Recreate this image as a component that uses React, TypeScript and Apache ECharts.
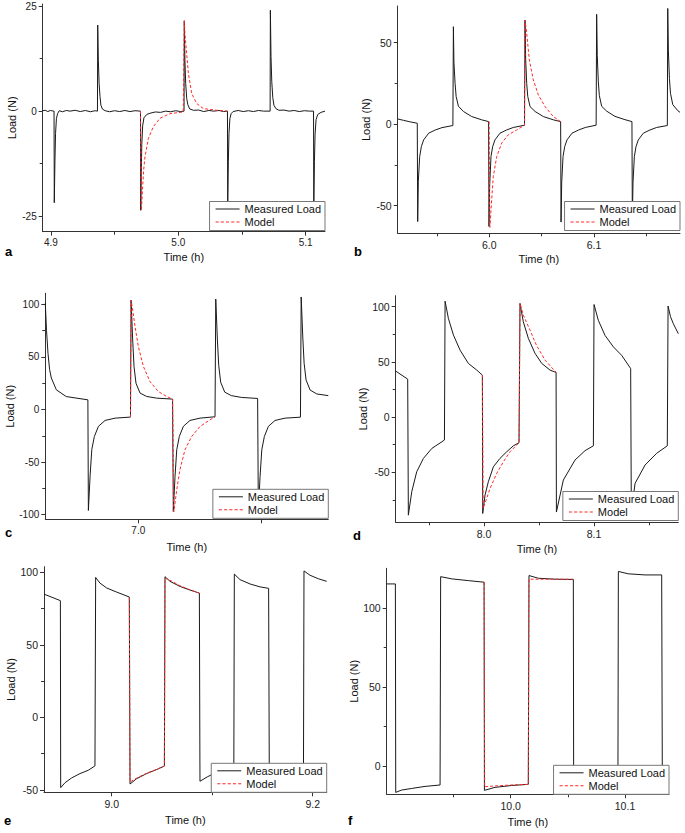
import React, { useEffect, useRef } from "react";
import * as echarts from "echarts";

type Pt = [number, number];

// ---------- Panel a ----------
const measuredA: Pt[] = [
  [4.8935, 0.1], [4.8955, 0.2], [4.8975, -0.1], [4.8995, 0.15], [4.9012, 0.05], [4.9024, 0.0],
  [4.9026, -21.8], [4.9031, -12], [4.9036, -5.3], [4.9043, -1.7], [4.9052, -0.6], [4.9065, 0.1],
  [4.909, -0.15], [4.912, 0.15], [4.915, 0.0], [4.919, 0.2], [4.923, -0.1], [4.927, 0.15], [4.931, -0.15],
  [4.9345, 0.1], [4.9365, 0.0], [4.9367, 20.5], [4.9372, 12], [4.9378, 6.6], [4.9385, 3.5],
  [4.9392, 1.4], [4.9404, 0.5], [4.9425, 0.1], [4.946, -0.15], [4.95, 0.1], [4.954, -0.1], [4.958, 0.15],
  [4.962, -0.1], [4.966, 0.1], [4.9703, 0.0], [4.9705, -23.6], [4.9709, -15], [4.9713, -8],
  [4.972, -3.5], [4.973, -1.6], [4.9752, -0.8], [4.9778, -0.5], [4.982, -0.2], [4.986, -0.3],
  [4.99, 0.0], [4.994, -0.15], [4.998, 0.1], [5.0015, -0.1], [5.0045, 0.0], [5.0047, 21.5],
  [5.0052, 12], [5.0058, 6.6], [5.0066, 3], [5.0075, 1.5], [5.009, 0.5], [5.012, 0.2], [5.016, 0.25],
  [5.02, -0.1], [5.024, 0.15], [5.028, 0.0], [5.032, 0.15], [5.0355, -0.1], [5.0386, 0.0],
  [5.0388, -23], [5.0393, -12], [5.0398, -5.3], [5.0405, -1.8], [5.0415, -0.6], [5.043, -0.1],
  [5.047, 0.15], [5.051, -0.1], [5.055, 0.1], [5.059, -0.1], [5.063, 0.15], [5.067, 0.0], [5.0721, 0.0],
  [5.0723, 24], [5.0728, 13], [5.0734, 7], [5.0742, 3.2], [5.0751, 1.4], [5.0766, 0.6], [5.079, 0.2],
  [5.083, 0.25], [5.087, 0.0], [5.091, 0.15], [5.095, -0.1], [5.099, 0.1], [5.103, 0.0], [5.1062, 0.0],
  [5.1064, -23], [5.1069, -12], [5.1074, -5.5], [5.1082, -2], [5.1095, -0.8], [5.112, -0.3], [5.1152, 0.0],
];
const modelA: Pt[] = [
  [4.9703, 0.0], [4.971, -23.6], [4.972, -18], [4.9728, -14], [4.9738, -10.9], [4.9765, -6.5],
  [4.9804, -3.7], [4.9856, -1.7], [4.9935, -0.6], [5.0039, -0.2], [5.0047, 21.5], [5.0052, 18.5],
  [5.0061, 15.3], [5.0079, 9], [5.0105, 4.2], [5.0145, 1.8], [5.0197, 0.6], [5.0302, 0.2], [5.0386, 0.0],
];
const xLabelsA = [4.9, 5.0, 5.1];
const xMinorA = [4.95, 5.05];
const yLabelsA = [-25, 0, 25];
const yMinorA = [-12.5, 12.5];

// ---------- Panel b ----------
const measuredB: Pt[] = [
  [5.9125, 3.2], [5.918, 2.4], [5.924, 1.5], [5.9312, 0.6], [5.9316, -59.7], [5.9322, -35],
  [5.9335, -19.8], [5.9351, -13.7], [5.9373, -9.6], [5.9421, -5.5], [5.9485, -3.5], [5.9548, -2.1],
  [5.9652, -0.8], [5.9657, 59.8], [5.9662, 38], [5.9673, 25], [5.9683, 17], [5.9705, 11],
  [5.9753, 7.8], [5.9832, 4.7], [5.9927, 2.7], [5.9993, 1.6], [5.9997, -62.7], [6.0003, -38],
  [6.0016, -19.8], [6.0032, -13.7], [6.0054, -9.6], [6.0102, -5.5], [6.0166, -3.5], [6.0229, -2],
  [6.0336, -0.6], [6.0341, 63.9], [6.0347, 40], [6.0357, 25], [6.0367, 17], [6.0389, 10.8],
  [6.0437, 7.8], [6.0516, 4.7], [6.0611, 2.7], [6.0681, 1.6], [6.0685, -60], [6.0691, -36],
  [6.0704, -19.8], [6.072, -13.7], [6.0742, -9.6], [6.079, -5.5], [6.0854, -3.5], [6.0917, -2],
  [6.102, -0.6], [6.1025, 67.4], [6.1031, 42], [6.1041, 26], [6.1051, 17.5], [6.1073, 11],
  [6.1121, 8], [6.12, 4.8], [6.1295, 2.8], [6.1362, 1.6], [6.1366, -60], [6.1372, -36],
  [6.1385, -19.8], [6.1401, -13.7], [6.1423, -9.6], [6.1471, -5.5], [6.1535, -3.5], [6.1598, -2],
  [6.17, -0.8], [6.1704, 71], [6.171, 45], [6.172, 28], [6.173, 19], [6.1752, 12], [6.18, 8.3],
  [6.1821, 7.3],
];
const modelB: Pt[] = [
  [5.9998, 1.6], [6.0005, -63.3], [6.0023, -46], [6.0038, -32], [6.0071, -19.8], [6.0118, -11.6],
  [6.0181, -6.5], [6.0262, -3.5], [6.0336, -0.6], [6.0341, 63.9], [6.0357, 55.8], [6.0382, 39.4],
  [6.042, 27.2], [6.0468, 18], [6.0532, 10.8], [6.0611, 4.7], [6.0681, 1.6],
];
const xLabelsB = [6.0, 6.1];
const xMinorB = [5.95, 6.05, 6.15];
const yLabelsB = [-50, 0, 50];
const yMinorB = [-25, 25];

// ---------- Panel c ----------
const measuredC: Pt[] = [
  [6.9242, 101], [6.9252, 75], [6.9264, 53.5], [6.9277, 38], [6.9291, 30], [6.9332, 18.7],
  [6.9413, 12.3], [6.9589, 9.2], [6.9593, -96], [6.9607, -63], [6.9621, -38], [6.9642, -25.6],
  [6.9675, -16], [6.9729, -10.4], [6.9811, -8.2], [6.9936, -7.2], [6.9941, 104], [6.9954, 66],
  [6.9965, 41], [6.9981, 25], [7.0014, 15.6], [7.0068, 12.4], [7.015, 10.8], [7.0279, 9.9],
  [7.0285, -97], [7.0299, -63.6], [7.0313, -38.3], [7.0334, -25.6], [7.0367, -16], [7.0421, -10.4],
  [7.0503, -8.2], [7.0625, -6.9], [7.0631, 105], [7.0644, 67], [7.0655, 42], [7.0671, 26],
  [7.0704, 16.5], [7.0758, 13.2], [7.084, 11.5], [7.0972, 10.5], [7.0978, -97], [7.0992, -63.6],
  [7.1006, -38.3], [7.1027, -25.6], [7.106, -16], [7.1114, -10.4], [7.1196, -8.2], [7.1321, -7.3],
  [7.1327, 107], [7.134, 69], [7.1351, 44], [7.1367, 28], [7.14, 18.5], [7.1454, 14.8], [7.1548, 13.2],
];
const modelC: Pt[] = [
  [6.9936, -7.2], [6.9941, 104], [6.9954, 94.7], [6.9973, 79], [7.0, 60], [7.0041, 41],
  [7.0095, 26.6], [7.0163, 17.1], [7.0231, 12.4], [7.0279, 9.9], [7.029, -97], [7.0313, -76.3],
  [7.0339, -57.3], [7.038, -38.3], [7.0435, -25.6], [7.0503, -16.1], [7.0573, -10.7], [7.0625, -6.9],
];
const xTicksC = [7.0, 7.1];
const xLabelsC = [7.0];
const xMinorC: number[] = [];
const yLabelsC = [-100, -50, 0, 50, 100];
const yMinorC = [-75, -25, 25, 75];

// ---------- Panel d ----------
const measuredD: Pt[] = [
  [7.9197, 41.7], [7.9306, 34.4], [7.9312, -88.8], [7.9343, -67.6], [7.9388, -49.5], [7.9449, -37.4],
  [7.9525, -28.4], [7.964, -20.8], [7.9646, 105], [7.9676, 89.4], [7.9722, 74.3], [7.9782, 60.7],
  [7.9858, 48.6], [7.9934, 42.6], [7.9985, 38], [7.9988, -87.3], [8.0009, -70.7], [8.0039, -58.6],
  [8.0085, -45], [8.0145, -37.4], [8.0206, -31.4], [8.0267, -26], [8.0318, -23.2], [8.0327, 103],
  [8.0357, 86.4], [8.0403, 71.3], [8.0464, 57.7], [8.0525, 48.6], [8.06, 42.6], [8.0655, 40.5],
  [8.0658, -86], [8.0721, -57], [8.0827, -38.9], [8.0918, -30.4], [8.0994, -26], [8.1, 102],
  [8.1039, 87.7], [8.11, 74], [8.1176, 63.6], [8.1251, 56], [8.1333, 44], [8.1339, -86],
  [8.1373, -60], [8.1464, -43.4], [8.1569, -32.8], [8.1666, -26], [8.1673, 100.6], [8.1695, 91],
  [8.1721, 84.6], [8.1766, 75.6],
];
const modelD: Pt[] = [
  [7.9985, 38], [7.9992, -82.7], [8.0009, -78], [8.0055, -64.6], [8.0115, -51], [8.0176, -40.5],
  [8.0236, -31.4], [8.0318, -23.2], [8.0327, 103], [8.0357, 92.4], [8.0418, 78.8], [8.0476, 65.2],
  [8.0555, 51.6], [8.0655, 40.5],
];
const xLabelsD = [8.0, 8.1];
const xMinorD = [7.95, 8.05, 8.15];
const yLabelsD = [-50, 0, 50, 100];
const yMinorD = [-75, -25, 25, 75];

// ---------- Panel e ----------
const measuredE: Pt[] = [
  [8.9326, 85], [8.9489, 80.5], [8.9492, -48.4], [8.9535, -45], [8.9601, -41.7], [8.9684, -38.7],
  [8.9767, -36.4], [8.9833, -33.4], [8.984, 96.5], [8.9883, 92.6], [8.995, 89.2], [9.0049, 86.4],
  [9.0175, 83], [9.0182, -45.9], [9.0248, -42.2], [9.0347, -38.7], [9.0447, -35.9], [9.0524, -33.5],
  [9.053, 97], [9.058, 93.8], [9.0679, 90.3], [9.0779, 87.8], [9.0872, 85.7], [9.0878, -44],
  [9.095, -41], [9.105, -37.5], [9.1215, -33.5], [9.122, 98.8], [9.1276, 95], [9.1376, 92],
  [9.1475, 90], [9.1561, 89], [9.1568, -45], [9.164, -41.5], [9.175, -37], [9.1908, -32.5],
  [9.1913, 101], [9.1973, 98], [9.2056, 95.6], [9.2139, 93.8],
];
const modelE: Pt[] = [
  [9.0175, 82.5], [9.0182, -44.5], [9.0248, -41.8], [9.0347, -38.5], [9.0447, -35.8], [9.0524, -33.5],
  [9.053, 96], [9.058, 94.5], [9.0679, 90.8], [9.0779, 88], [9.0872, 85.7],
];
const xLabelsE = [9.0, 9.2];
const xMinorE = [9.1];
const yLabelsE = [-50, 0, 50, 100];
const yMinorE = [-25, 25, 75];

// ---------- Panel f ----------
const measuredF: Pt[] = [
  [9.8915, 115.4], [9.8991, 115.4], [9.8994, -16.7], [9.9046, -15.2], [9.9134, -14.2], [9.925, -12.9],
  [9.9382, -12], [9.9387, 120], [9.9484, 118.6], [9.9629, 117.5], [9.9767, 116.5], [9.977, -15.4],
  [9.9863, -13.5], [10.001, -12.3], [10.0154, -11.6], [10.016, 120.7], [10.0242, 119], [10.0388, 118.4],
  [10.0548, 118.2], [10.0551, -16], [10.063, -14.4], [10.075, -12.8], [10.0938, -11.8], [10.0942, 123.3],
  [10.1029, 121.8], [10.1175, 121.1], [10.1321, 121.1], [10.1327, -16], [10.1385, -15],
];
const modelF: Pt[] = [
  [9.9767, 116.5], [9.9772, -13.1], [9.9863, -12.6], [10.001, -12], [10.0154, -11.6], [10.016, 118.4],
  [10.0388, 118.4], [10.0548, 118.4],
];
const xLabelsF = [10.0, 10.1];
const xMinorF = [9.95, 10.05];
const yLabelsF = [0, 50, 100];
const yMinorF = [25, 75];

const seriesNames = ["Measured Load", "Model"];
const panelLetters = ["a", "b", "c", "d", "e", "f"];

// ---------- layout (positions / styles) ----------
const FONT = "'Liberation Sans', Arial, Helvetica, sans-serif";
const MEASURED_COLOR = "#1a1a1a";
const MODEL_COLOR = "#ff2a2a";
const MODEL_DASH = [3, 2];
const SOLID_ICON = "path://M0,0H24V1H0Z";
const DASH_ICON =
  "path://M0,0H3V1H0Z M5,0H8V1H5Z M10,0H13V1H10Z M15,0H18V1H15Z M20,0H23V1H20Z";

const panels = [
  {
    measured: measuredA, model: modelA, xTicks: xLabelsA, xLabels: xLabelsA, xMinor: xMinorA,
    yLabels: yLabelsA, yMinor: yMinorA,
    left: 42.7, top: 4, width: 282.3, height: 227.7, xMin: 4.8935, xMax: 5.1152, yMin: -28.7, yMax: 25.5,
    yGap: 25, xGap: 20, labelSize: 10, legendRight: 360, legendBottom: 602.5, letterX: 5, letterY: 251.5,
  },
  {
    measured: measuredB, model: modelB, xTicks: xLabelsB, xLabels: xLabelsB, xMinor: xMinorB,
    yLabels: yLabelsB, yMinor: yMinorB,
    left: 397.7, top: 6, width: 282.3, height: 227.3, xMin: 5.9125, xMax: 6.1821, yMin: -66.9, yMax: 72.5,
    yGap: 26, xGap: 20, labelSize: 10.5, legendRight: 5, legendBottom: 602.5, letterX: 354, letterY: 251.5,
  },
  {
    measured: measuredC, model: modelC, xTicks: xTicksC, xLabels: xLabelsC, xMinor: xMinorC,
    yLabels: yLabelsC, yMinor: yMinorC,
    left: 45.3, top: 293.3, width: 283, height: 226, xMin: 6.9242, xMax: 7.1548, yMin: -104.4, yMax: 110.5,
    yGap: 29, xGap: 22, labelSize: 10, legendRight: 356.7, legendBottom: 314.7, letterX: 5, letterY: 532,
  },
  {
    measured: measuredD, model: modelD, xTicks: xLabelsD, xLabels: xLabelsD, xMinor: xMinorD,
    yLabels: yLabelsD, yMinor: yMinorD,
    left: 395.7, top: 295.7, width: 282.6, height: 226.6, xMin: 7.9197, xMax: 8.1766, yMin: -95.3, yMax: 110,
    yGap: 26, xGap: 21, labelSize: 10.5, legendRight: 6.7, legendBottom: 312.5, letterX: 353, letterY: 535,
  },
  {
    measured: measuredE, model: modelE, xTicks: xLabelsE, xLabels: xLabelsE, xMinor: xMinorE,
    yLabels: yLabelsE, yMinor: yMinorE,
    left: 44, top: 566.7, width: 282.7, height: 225.6, xMin: 8.9326, xMax: 9.2139, yMin: -51.6, yMax: 103.9,
    yGap: 26, xGap: 22, labelSize: 10.5, legendRight: 358.3, legendBottom: 40.7, letterX: 4, letterY: 820,
  },
  {
    measured: measuredF, model: modelF, xTicks: xLabelsF, xLabels: xLabelsF, xMinor: xMinorF,
    yLabels: yLabelsF, yMinor: yMinorF,
    left: 386.7, top: 568.3, width: 282.3, height: 226, xMin: 9.8915, xMax: 10.1385, yMin: -17.9, yMax: 125.3,
    yGap: 27, xGap: 22, labelSize: 10.5, legendRight: 16, legendBottom: 38.7, letterX: 348, letterY: 820,
  },
];

function buildOption() {
  const axisColor = "#333";
  const grids: any[] = [];
  const xAxes: any[] = [];
  const yAxes: any[] = [];
  const series: any[] = [];
  const legends: any[] = [];
  const graphics: any[] = [];

  panels.forEach((p, i) => {
    grids.push({
      left: p.left, top: p.top, width: p.width, height: p.height,
      containLabel: false, outerBoundsMode: "none", show: false,
    });
    const lineStyle = { color: axisColor, width: 1 };
    xAxes.push({
      type: "value", gridIndex: i, position: "bottom", min: p.xMin, max: p.xMax,
      name: "Time (h)", nameLocation: "middle", nameGap: p.xGap,
      nameTextStyle: { fontSize: 11, color: "#111", fontFamily: FONT },
      axisLine: { show: true, onZero: false, lineStyle },
      axisTick: { show: true, inside: false, length: 4, customValues: p.xTicks, lineStyle },
      axisLabel: {
        show: true, customValues: p.xLabels, formatter: (v: number) => v.toFixed(1),
        fontSize: p.labelSize, color: "#222", margin: 6, fontFamily: FONT, hideOverlap: false,
      },
      splitLine: { show: false },
    });
    xAxes.push({
      type: "value", gridIndex: i, position: "bottom", min: p.xMin, max: p.xMax,
      axisLine: { show: false, onZero: false },
      axisTick: { show: p.xMinor.length > 0, inside: false, length: 3, customValues: p.xMinor, lineStyle },
      axisLabel: { show: false },
      splitLine: { show: false },
    });
    yAxes.push({
      type: "value", gridIndex: i, position: "left", min: p.yMin, max: p.yMax,
      name: "Load (N)", nameLocation: "middle", nameGap: p.yGap,
      nameTextStyle: { fontSize: 11, color: "#111", fontFamily: FONT },
      axisLine: { show: true, onZero: false, lineStyle },
      axisTick: { show: true, inside: false, length: 4, customValues: p.yLabels, lineStyle },
      axisLabel: {
        show: true, customValues: p.yLabels, formatter: (v: number) => String(v),
        fontSize: p.labelSize, color: "#222", margin: 6, fontFamily: FONT, hideOverlap: false,
      },
      splitLine: { show: false },
    });
    yAxes.push({
      type: "value", gridIndex: i, position: "left", min: p.yMin, max: p.yMax,
      axisLine: { show: false, onZero: false },
      axisTick: { show: p.yMinor.length > 0, inside: false, length: 3, customValues: p.yMinor, lineStyle },
      axisLabel: { show: false },
      splitLine: { show: false },
    });

    series.push({
      type: "line", name: seriesNames[0], xAxisIndex: 2 * i, yAxisIndex: 2 * i,
      data: p.measured, symbol: "none", showSymbol: false, silent: true, z: 2,
      lineStyle: { color: MEASURED_COLOR, width: 1 }, itemStyle: { color: MEASURED_COLOR },
    });
    series.push({
      type: "line", name: seriesNames[1], xAxisIndex: 2 * i, yAxisIndex: 2 * i,
      data: p.model, symbol: "none", showSymbol: false, silent: true, z: 3,
      lineStyle: { color: MODEL_COLOR, width: 1, type: MODEL_DASH }, itemStyle: { color: MODEL_COLOR },
    });

    legends.push({
      show: true, orient: "vertical", right: p.legendRight, bottom: p.legendBottom,
      data: [
        { name: seriesNames[0], icon: SOLID_ICON, itemStyle: { color: MEASURED_COLOR, borderWidth: 0 } },
        { name: seriesNames[1], icon: DASH_ICON, itemStyle: { color: MODEL_COLOR, borderWidth: 0 } },
      ],
      selectedMode: false, symbolKeepAspect: true,
      backgroundColor: "#fff", borderColor: "#777", borderWidth: 1, borderRadius: 0,
      padding: [2, 4, 3, 6], itemGap: 2, itemWidth: 24, itemHeight: 12,
      textStyle: { fontSize: 11, color: "#111", fontFamily: FONT },
      z: 10,
    });

    graphics.push({
      type: "text", x: p.letterX, y: p.letterY,
      style: {
        text: panelLetters[i], fill: "#000", font: `bold 13px ${FONT}`,
        textAlign: "left", verticalAlign: "middle",
      },
    });
  });

  return {
    animation: false,
    backgroundColor: "#fff",
    textStyle: { fontFamily: FONT },
    grid: grids,
    xAxis: xAxes,
    yAxis: yAxes,
    series,
    legend: legends,
    graphic: graphics,
  };
}

export default function App() {
  const ref = useRef<HTMLDivElement>(null);
  useEffect(() => {
    document.body.style.margin = "0";
    if (!ref.current) return;
    const chart = echarts.init(ref.current, undefined, { renderer: "svg" });
    chart.setOption(buildOption() as any);
    return () => chart.dispose();
  }, []);
  return <div ref={ref} style={{ width: 685, height: 833 }} />;
}
